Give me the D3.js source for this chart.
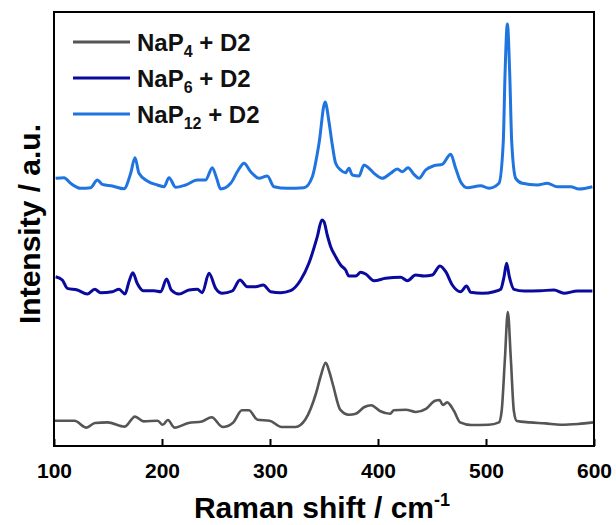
<!DOCTYPE html>
<html><head><meta charset="utf-8">
<script src="https://cdn.jsdelivr.net/npm/d3@7"></script>
<style>body{margin:0;background:#fff}svg{display:block}text{font-family:"Liberation Sans",Arial,sans-serif;font-weight:bold}</style>
</head><body>
<script>
const xTicks = [100, 200, 300, 400, 500, 600];
const seriesNames = ["NaP4 + D2", "NaP6 + D2", "NaP12 + D2"];
const seriesSubs = ["4", "6", "12"];
const seriesColors = ["#555555", "#0a0a9e", "#1f74e0"];

const grayW = [100,119,130,138,149.5,165.5,175,183,196,200.6,205.4,211.7,224.5,237,246,256,266,274,280.4,288.4,299.6,310.7,323.5,333,342.7,347,351.6,355,358.6,365,373,379.4,387.4,393.7,401.7,411.3,414.5,425.7,435,444.8,452.8,457,460,464,470.4,476,486.3,502.3,512,514.5,517.5,520.2,523,525.8,528.5,540.6,555,569.3,585.3,599.7];
const grayI = [25.3,25.3,18.4,23,23.6,19.4,29.4,24.6,25.3,21.2,26,18.4,23,24.6,28.8,19,23.6,35.7,35.7,26.3,25.3,19,19,27,53,70,83.2,74,60,36.3,31.2,32.2,39,40.8,35,32.2,35.7,36.3,34,37.4,45.3,46,41,43.6,35,23.6,21,21.2,23.6,35,87,134,87,35,25,23.6,22.6,21.2,22,23.6];

const navyW = [101.5,107.7,112.3,121.6,130.9,137.7,143.2,154,160.2,165.7,169.4,173,177,182.7,192.6,198.8,204.3,208.6,215.7,225,232.7,237.3,243.5,249.7,255.9,265,272.2,279,286.7,293.8,300.6,309.9,319,328.4,336,343.8,348,350,353,356.2,360.8,365.4,370,373,379.3,384,388.6,396.3,407,421,427.2,434.9,442.6,450.3,457.4,462.7,468.8,476.5,482,485.8,496.6,507.4,513.6,516.7,519.1,521.6,525.9,535.2,550.6,563,572.2,584.6,598.5];
const navyI = [169.3,166,157.7,156,152,156.7,153.3,154.3,156.7,152,164.3,173.3,162.7,155.3,155.3,154.3,167,156,152,156,156.7,153.3,172.7,157.7,152.7,155,166,159.3,159.3,161,154.3,153.3,155.3,166,182.7,209.3,226,224.3,211,199.3,189.3,181,176,170,170,173.7,172,165.3,167.7,168.7,165.3,171,170,171,180,174.3,161,154.3,160,153.7,152.7,154.3,156.7,169.3,182.7,169.3,156.7,155,155.3,156,152.7,155,155];

const blueW = [101.5,109.3,115.4,124.7,134,140.1,144.8,154,164.8,171,175,178.7,186.4,195.7,201.9,206.5,212.7,221.9,232.7,240.4,246.6,250.6,254.3,263.6,270.7,275.9,282.1,289.8,297.5,303.7,316,331.5,339.2,345.4,351,354.6,357.7,360.8,365.4,370,373.1,376.2,382.4,387,391.7,396.3,404,411.7,417.9,422.5,427.8,433.3,438,444.1,451.9,459.6,467.3,471.9,476.5,482.7,495,502.8,512,516,517.6,519.8,522,523.8,527.5,533.6,547.5,556.8,566,578.4,586,598.5];
const blueI = [267.7,268.3,262.7,257.7,258.3,266,261.7,260,257.3,272.7,288.3,272.7,265,261,259.3,268.3,258.7,261,266,266,278.3,267.7,257,262.7,276,282.7,274.3,267.7,270,259.3,257.7,258.3,269.3,302.7,344,324.3,301,282.7,276,273.3,277.7,271,270,281,277.7,272.7,267.7,272.7,277,274.3,278.3,271.7,267.7,276,280.3,281.7,291.7,277.7,264.3,258.3,260.3,257.7,262.7,304.3,371,422,371,304.3,267.7,262.7,261,262.7,259.3,259.3,257,259.3];

const W = 616, H = 525;
const m = {left: 54, right: 594, top: 12, bottom: 446};
const svg = d3.select("body").append("svg").attr("width", W).attr("height", H);
const x = d3.scaleLinear().domain([100, 600]).range([m.left, m.right]);
const y = d3.scaleLinear().domain([0, 434]).range([m.bottom, m.top]);

const series = [
  {w: grayW, v: grayI, c: seriesColors[0], sw: 2.6},
  {w: navyW, v: navyI, c: seriesColors[1], sw: 3},
  {w: blueW, v: blueI, c: seriesColors[2], sw: 3}
];
const line = d3.line().x(d => x(d[0])).y(d => y(d[1])).curve(d3.curveMonotoneX);
series.forEach(s => {
  svg.append("path").datum(s.w.map((w, i) => [w, s.v[i]]))
    .attr("d", line).attr("fill", "none").attr("stroke", s.c)
    .attr("stroke-width", s.sw).attr("stroke-linejoin", "round");
});

// frame
svg.append("rect").attr("x", m.left).attr("y", m.top)
  .attr("width", m.right - m.left).attr("height", m.bottom - m.top)
  .attr("fill", "none").attr("stroke", "#000").attr("stroke-width", 2);

// x axis
const xAxis = d3.axisBottom(x).tickValues(xTicks).tickSizeInner(-7).tickSizeOuter(0).tickPadding(17);
const gx = svg.append("g").attr("transform", `translate(0,${m.bottom})`).call(xAxis);
gx.select(".domain").remove();
gx.selectAll(".tick line").attr("stroke", "#000").attr("stroke-width", 2);
gx.selectAll(".tick text").attr("font-size", 21).attr("fill", "#000")
  .attr("font-family", "Liberation Sans, Arial, sans-serif").attr("font-weight", "bold");

// axis titles
const xt = svg.append("text").attr("x", 322).attr("y", 518).attr("text-anchor", "middle")
  .attr("font-size", 30).attr("fill", "#000");
xt.append("tspan").text("Raman shift / cm");
xt.append("tspan").attr("dy", -12).attr("font-size", 18).text("-1");

svg.append("text").attr("transform", "translate(40,224) rotate(-90)")
  .attr("text-anchor", "middle").attr("font-size", 30).attr("fill", "#000")
  .text("Intensity / a.u.");

// legend
const legY = [42, 78, 114];
seriesNames.forEach((n, i) => {
  svg.append("line").attr("x1", 73).attr("x2", 130).attr("y1", legY[i]).attr("y2", legY[i])
    .attr("stroke", seriesColors[i]).attr("stroke-width", 3);
  const t = svg.append("text").attr("x", 137).attr("y", legY[i] + 8.5)
    .attr("font-size", 24).attr("fill", "#111");
  t.append("tspan").text("NaP");
  t.append("tspan").attr("dy", 6).attr("font-size", 16).text(seriesSubs[i]);
  t.append("tspan").attr("dy", -6).text(" + D2");
});
</script>
</body></html>
